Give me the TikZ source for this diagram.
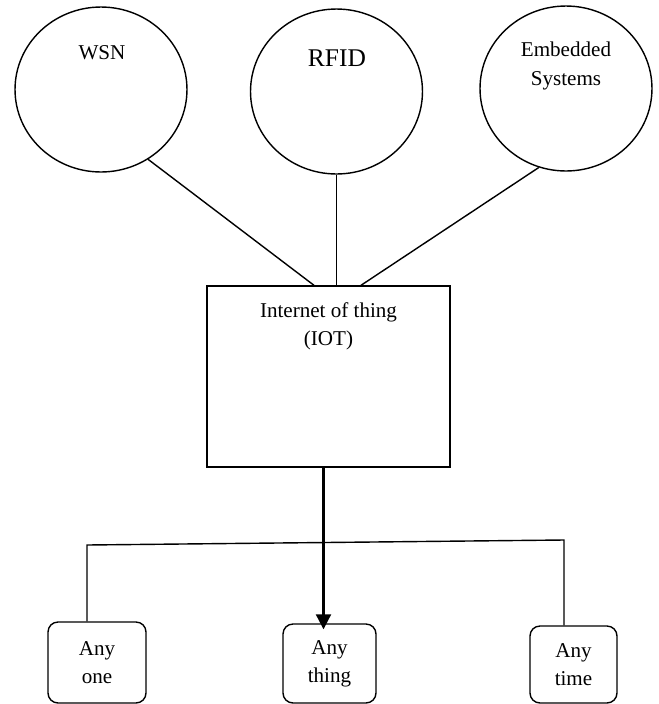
\documentclass[tikz,border=0pt]{standalone}
\usepackage{fontspec}
\setmainfont{Liberation Serif}
\usetikzlibrary{arrows.meta,positioning,calc,shapes.geometric}

\begin{document}
\begin{tikzpicture}[
    x=0.02cm, y=-0.02cm,
    line width=0.8pt,
    bubble/.style={
        draw,
        ellipse,
        inner sep=0pt,
        minimum width=3.44cm,
        minimum height=3.30cm
    },
    tag/.style={
        align=center,
        font=\fontsize{12}{16}\selectfont
    },
    block/.style={
        draw,
        minimum width=4.86cm,
        minimum height=3.62cm
    },
    leaf/.style={
        draw,
        rounded corners=0.2cm,
        align=center,
        font=\fontsize{12}{16}\selectfont
    },
    arrow/.style={-{Triangle[length=3mm,width=3mm]}, line width=1.2pt}
]
\useasboundingbox (0,0) rectangle (659,704);

\node[bubble] (wsn) at (101,89.5) {};
\node[bubble] (rfid) at (336.5,91.5) {};
\node[bubble] (emb) at (566,88.5) {};
\node[tag] (wsnlbl) at (102,53) {WSN};
\node[tag, font=\fontsize{14.5}{17}\selectfont] (rfidlbl) at (337,58) {RFID};
\node[tag] (emblbl) at (566,66) {Embedded\\Systems};

\node[block] (iot) at (328.5,376.5) {};
\node[tag] (iotlbl) at (328.5,326) {Internet of thing\\(IOT)};

\node[leaf, minimum width=1.96cm, minimum height=1.62cm] (one) at (97,662.5) {Any\\one};
\node[leaf, minimum width=1.86cm, minimum height=1.58cm] (thing) at (329.5,663.5) {Any\\thing};
\node[leaf, minimum width=1.74cm, minimum height=1.54cm] (time) at (573.5,664.5) {Any\\time};

\draw (wsn.-56) -- ($(iot.north)+(-14.5,0)$);
\draw (rfid.south) -- (rfid.south |- iot.north);
\draw (emb.-109) -- ($(iot.north)+(32.5,0)$);

\draw[arrow, shorten >=-0.12cm] ([xshift=-0.1cm]iot.south) -- ([xshift=-0.1cm]iot.south |- thing.north);

\coordinate (busl) at (87,545);
\coordinate (busr) at (564,540);
\draw (one.north -| busl) -- (busl) -- (busr) -- (time.north -| busr);
\end{tikzpicture}
\end{document}
